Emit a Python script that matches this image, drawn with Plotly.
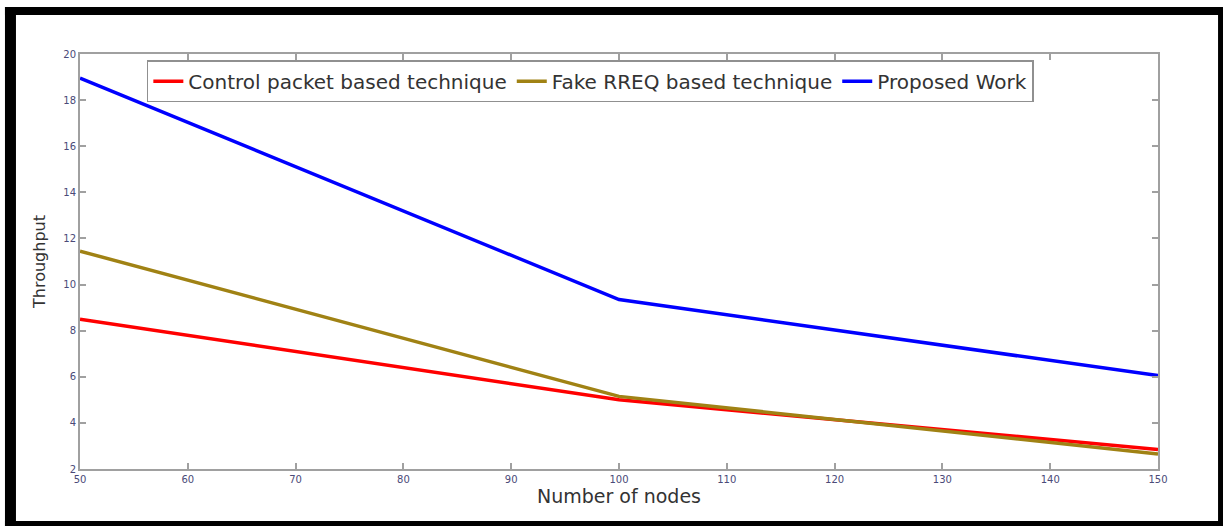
import plotly.graph_objects as go

nodes = [50, 100, 150]
control_packet = [8.5, 5.0, 2.85]
fake_rreq = [11.45, 5.15, 2.65]
proposed = [18.95, 9.35, 6.05]

series_names = ["Control packet based technique", "Fake RREQ based technique", "Proposed Work"]
series_colors = ["#ff0000", "#a08214", "#0000ff"]

x_ticks = [50, 60, 70, 80, 90, 100, 110, 120, 130, 140, 150]
y_ticks = [2, 4, 6, 8, 10, 12, 14, 16, 18, 20]

fig = go.Figure()
for name, vals, col in zip(series_names, [control_packet, fake_rreq, proposed], series_colors):
    fig.add_trace(go.Scatter(x=nodes, y=vals, mode="lines", name=name,
                             line=dict(color=col, width=3.5)))

axis_common = dict(showline=True, linecolor="#a0a0a0", linewidth=2, mirror="ticks",
                   ticks="inside", ticklen=6, tickcolor="#a0a0a0", tickwidth=1.5,
                   showgrid=False, zeroline=False,
                   tickfont=dict(family="DejaVu Sans", size=10, color="#4a4a78"))

fig.update_layout(
    width=1223, height=526,
    margin=dict(l=80, r=65, t=54, b=57),
    paper_bgcolor="white", plot_bgcolor="white",
    xaxis=dict(range=[50, 150], tickvals=x_ticks, title=dict(text="Number of nodes",
               font=dict(family="DejaVu Sans", size=19, color="#333333"), standoff=3), **axis_common),
    yaxis=dict(range=[2, 20], tickvals=y_ticks, title=dict(text="Throughput",
               font=dict(family="DejaVu Sans", size=16, color="#333333"), standoff=14), **axis_common),
    legend=dict(orientation="h", x=0.062, y=0.985, xanchor="left", yanchor="top",
                bgcolor="white", bordercolor="#909090", borderwidth=1.5,
                font=dict(family="DejaVu Sans", size=20, color="#333333")),
    showlegend=True,
)

# black picture frame
frame = [
    (-0.0696, 1.0940, 1.08, 1.1133),
    (-0.0696, -0.15, -0.0594, 1.1133),
    (1.0557, -0.15, 1.08, 1.1133),
    (-0.0696, -0.15, 1.08, -0.1253),
]
for x0, y0, x1, y1 in frame:
    fig.add_shape(type="rect", xref="paper", yref="paper", x0=x0, y0=y0, x1=x1, y1=y1,
                  fillcolor="black", line=dict(width=0), layer="above")

fig.write_html("out.html", config={"displayModeBar": False},
               post_script="document.body.style.margin='0';document.body.style.overflow='hidden';")
